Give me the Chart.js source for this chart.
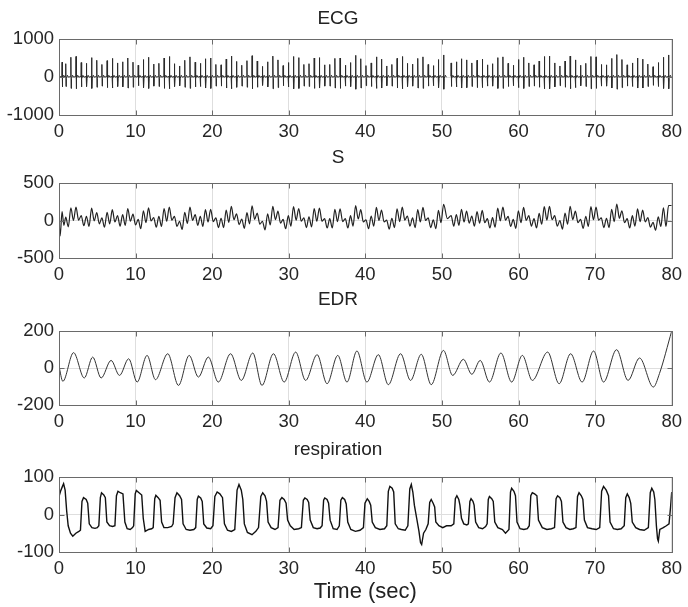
<!DOCTYPE html>
<html>
<head>
<meta charset="utf-8">
<title>ECG / S / EDR / respiration</title>
<script src="https://cdn.jsdelivr.net/npm/chart.js@4.4.1/dist/chart.umd.min.js"></script>
<style>
  html, body { margin: 0; padding: 0; background: #fff; }
  #wrap { position: relative; width: 688px; height: 607px; }
  #wrap canvas { position: absolute; left: 0; top: 0; }
</style>
</head>
<body>
<div id="wrap">
  <canvas id="ecg" width="688" height="607"></canvas>
  <canvas id="s" width="688" height="607"></canvas>
  <canvas id="edr" width="688" height="607"></canvas>
  <canvas id="resp" width="688" height="607"></canvas>
</div>
<script>
// ---- data ----

// tick labels
const xTicks = [0, 10, 20, 30, 40, 50, 60, 70, 80];
const ecgTicks = [-1000, 0, 1000];
const sTicks = [-500, 0, 500];
const edrTicks = [-200, 0, 200];
const respTicks = [-100, 0, 100];

// heart beats (sec)
const beatTime = [
  0.40, 0.88, 1.55, 2.22, 2.90, 3.58, 4.26, 4.93, 5.60, 6.28,
  6.96, 7.64, 8.31, 8.98, 9.66, 10.34, 11.02, 11.69, 12.36, 13.04,
  13.72, 14.40, 15.07, 15.74, 16.42, 17.10, 17.78, 18.45, 19.12, 19.80,
  20.48, 21.16, 21.83, 22.50, 23.18, 23.86, 24.54, 25.21, 25.88, 26.56,
  27.24, 27.92, 28.59, 29.26, 29.94, 30.62, 31.30, 31.97, 32.64, 33.32,
  34.00, 34.68, 35.35, 36.02, 36.70, 37.38, 38.06, 38.73, 39.40, 40.08,
  40.76, 41.44, 42.11, 42.78, 43.46, 44.14, 44.82, 45.49, 46.16, 46.84,
  47.52, 48.20, 48.87, 49.54, 50.22, 51.20, 51.88, 52.55, 53.22, 53.90,
  54.58, 55.26, 55.93, 56.60, 57.28, 57.96, 58.64, 59.31, 59.98, 60.66,
  61.34, 62.02, 62.69, 63.36, 64.04, 64.72, 65.40, 66.07, 66.74, 67.42,
  68.10, 68.78, 69.45, 70.12, 70.80, 71.48, 72.16, 72.83, 73.50, 74.18,
  74.86, 75.54, 76.21, 76.88, 77.56, 78.24, 78.92, 79.59
];

// ECG R peak and S trough per beat
const ecgPeak = [
  390, 350, 520, 540, 380, 360, 510, 440, 330, 430,
  490, 370, 400, 500, 390, 310, 460, 520, 340, 360,
  500, 540, 350, 290, 440, 530, 390, 360, 480, 500,
  330, 320, 470, 550, 410, 310, 430, 560, 420, 280,
  400, 550, 450, 300, 380, 540, 510, 330, 350, 500,
  510, 320, 330, 490, 500, 310, 380, 570, 480, 300,
  370, 530, 470, 290, 330, 490, 540, 360, 340, 490,
  530, 330, 300, 460, 580, 370, 400, 480, 450, 370,
  440, 470, 320, 350, 510, 530, 360, 310, 460, 520,
  370, 320, 420, 540, 550, 370, 290, 420, 550, 450,
  310, 360, 540, 530, 330, 320, 490, 590, 460, 320,
  370, 500, 470, 340, 270, 380, 520, 580
];
const ecgTrough = [
  -260, -250, -300, -310, -260, -250, -300, -270, -240, -280,
  -290, -250, -260, -290, -270, -230, -280, -300, -240, -250,
  -300, -310, -250, -230, -270, -300, -260, -250, -290, -300,
  -240, -240, -290, -310, -270, -240, -270, -310, -270, -220,
  -260, -310, -280, -230, -260, -310, -300, -240, -250, -300,
  -290, -240, -240, -290, -300, -240, -250, -320, -290, -230,
  -250, -300, -290, -230, -240, -290, -310, -250, -240, -290,
  -300, -240, -230, -280, -320, -250, -260, -290, -280, -250,
  -280, -280, -240, -240, -300, -300, -250, -230, -280, -300,
  -250, -240, -270, -310, -310, -260, -230, -270, -310, -280,
  -230, -250, -310, -300, -240, -240, -290, -320, -280, -240,
  -250, -290, -290, -250, -220, -250, -300, -310
];
const ecgGapTime = [50.62];

// S: one crest per beat, one dip between beats
const sPeak = [
  120, 45, 170, 180, 65, 55, 165, 105, 35, 110,
  145, 65, 80, 160, 85, 15, 130, 170, 40, 55,
  160, 180, 55, -10, 110, 180, 80, 55, 145, 150,
  35, 30, 140, 190, 90, 20, 105, 195, 100, -10,
  90, 190, 125, 15, 65, 185, 160, 35, 50, 160,
  165, 25, 25, 150, 155, 25, 65, 200, 145, 10,
  60, 175, 140, 5, 30, 155, 180, 60, 35, 145,
  175, 35, 10, 135, 215, 65, 80, 150, 125, 60,
  120, 135, 25, 40, 165, 180, 55, 15, 130, 175,
  65, 25, 95, 185, 190, 65, 0, 100, 190, 125,
  15, 55, 185, 180, 35, 30, 150, 220, 130, 25,
  65, 155, 140, 40, -25, 50, 170, 200
];
const sTrough = [
  -65, -85, 0, 5, -70, -80, -5, -45, -90, -45,
  -20, -75, -65, -10, -60, -110, -30, -5, -90, -80,
  -10, 5, -80, -120, -40, 0, -65, -80, -20, -15,
  -95, -95, -25, 10, -55, -105, -45, 15, -50, -125,
  -60, 10, -35, -110, -75, 5, -10, -95, -85, -10,
  -10, -100, -100, -15, -15, -100, -75, 20, -20, -110,
  -75, 0, -20, -115, -95, -15, 5, -75, -95, -20,
  0, -95, -110, -30, 25, -75, -65, -20, -35, -75,
  -35, -30, -100, -90, -5, 5, -80, -105, -30, 0,
  -75, -100, -50, 5, 10, -75, -115, -50, 10, -30,
  -105, -80, 10, 5, -95, -95, -15, 30, -30, -100,
  -75, -15, -20, -90, -130, -80, -80, 0
];
const sHeadTime = [0, 0.15];
const sHeadValue = [0, -205];
const sTailTime = [80];
const sTailValue = [200];

// EDR turning points
const edrTime = [
  0, 0.5, 1.9, 3.3, 4.4, 5.5, 6.8, 7.9, 9.1, 10.2,
  11.5, 12.6, 14.2, 15.6, 17.0, 18.2, 19.5, 20.8, 22.4, 23.8,
  25.3, 26.5, 28.0, 29.4, 30.9, 32.2, 33.7, 35.0, 36.4, 37.6,
  38.9, 40.2, 41.7, 43.0, 44.6, 45.9, 47.3, 48.6, 50.2, 51.4,
  52.8, 53.9, 55.0, 56.2, 57.7, 59.1, 60.5, 61.8, 63.8, 65.3,
  66.8, 68.3, 69.8, 71.1, 72.8, 74.3, 75.8, 77.6, 78.4, 80
];
const edrValue = [
  10, -72, 83, -54, 59, -54, 41, -40, 50, -76,
  68, -63, 77, -94, 68, -49, 59, -76, 77, -67,
  81, -94, 77, -76, 86, -67, 72, -85, 68, -76,
  92, -76, 72, -90, 77, -67, 74, -90, 95, -40,
  47, -34, 41, -76, 81, -76, 68, -67, 86, -85,
  77, -76, 92, -76, 99, -67, 54, -103, -30, 200
];

// respiration trace, one row per breath
const respTime = [
  0, 0.2, 0.45, 0.6, 0.8, 1.0, 1.2, 1.5, 1.8, 2.2, 2.6,
  2.8, 3.0, 3.2, 3.55, 3.75, 3.95, 4.3, 4.7, 5.0,
  5.2, 5.4, 5.55, 5.85, 6.05, 6.25, 6.6, 7.0,
  7.3, 7.5, 7.7, 8.0, 8.35, 8.6, 8.9, 9.3, 9.6,
  9.75, 9.95, 10.1, 10.45, 10.8, 11.0, 11.25, 11.7, 12.1,
  12.3, 12.5, 12.65, 12.95, 13.2, 13.4, 13.7, 14.2, 14.7,
  14.9, 15.15, 15.4, 15.75, 16.0, 16.2, 16.6, 17.1, 17.6,
  17.85, 18.05, 18.2, 18.5, 18.7, 18.9, 19.3, 19.8,
  20.1, 20.35, 20.65, 21.0, 21.35, 21.6, 22.0, 22.5,
  22.95, 23.25, 23.5, 23.8, 24.0, 24.2, 24.6, 25.2, 25.7,
  26.05, 26.35, 26.6, 26.9, 27.1, 27.3, 27.7, 28.2,
  28.6, 28.85, 29.1, 29.4, 29.65, 29.85, 30.2, 30.7, 31.3,
  31.65, 31.9, 32.1, 32.4, 32.6, 32.8, 33.2, 33.7, 34.1,
  34.35, 34.55, 34.7, 35.0, 35.2, 35.4, 35.8, 36.3,
  36.6, 36.8, 37.0, 37.3, 37.5, 37.7, 38.1, 38.7, 39.3, 39.75,
  39.95, 40.25, 40.5, 40.7, 40.9, 41.3, 41.9, 42.5,
  42.8, 43.0, 43.2, 43.5, 43.7, 43.9, 44.3, 44.7, 45.2,
  45.55, 45.8, 46.0, 46.2, 46.4, 46.7, 47.0, 47.2, 47.35, 47.6, 47.9, 48.2,
  48.4, 48.6, 48.85, 49.05, 49.2, 49.6, 50.1, 50.6, 51.2,
  51.55, 51.75, 51.95, 52.2, 52.35, 52.55, 52.85, 53.25,
  53.45, 53.65, 53.8, 54.05, 54.2, 54.4, 54.8, 55.3, 55.7,
  55.9, 56.05, 56.2, 56.5, 56.7, 56.9, 57.3, 57.9, 58.3,
  58.75, 58.95, 59.1, 59.4, 59.6, 59.8, 60.2, 60.7, 61.15,
  61.4, 61.6, 61.8, 62.1, 62.4, 62.6, 63.1, 63.7, 64.3,
  64.7, 64.9, 65.1, 65.4, 65.6, 65.8, 66.2, 66.7, 67.15,
  67.5, 67.7, 67.9, 68.2, 68.4, 68.6, 69.0, 69.6, 70.15,
  70.6, 70.85, 71.1, 71.45, 71.75, 71.95, 72.4, 72.9, 73.4,
  73.8, 74.0, 74.2, 74.45, 74.65, 74.85, 75.3, 75.8, 76.4,
  76.95, 77.2, 77.4, 77.65, 77.8, 78.0, 78.15, 78.25, 78.45, 78.9, 79.3, 79.65, 79.85, 80
];
const respValue = [
  48, 62, 75, 82, 65, 10, -30, -50, -58, -50, -45,
  -42, 35, 45, 40, 30, -25, -35, -37, -35,
  -30, 45, 58, 52, 45, -20, -30, -32,
  -30, 50, 62, 58, 55, -20, -38, -40, -35,
  -30, 55, 64, 58, 52, -10, -45, -40, -38,
  -35, 42, 51, 45, 38, -20, -35, -35, -32,
  -25, 45, 58, 50, 40, -25, -40, -42, -40,
  -35, 40, 49, 44, 35, -25, -36, -38,
  -30, 48, 60, 55, 45, -25, -42, -45,
  -40, 65, 80, 65, 40, -25, -48, -54, -45,
  -35, 48, 58, 50, 35, -20, -35, -40,
  -35, 38, 45, 40, 30, -15, -30, -40, -38,
  -35, 38, 44, 40, 32, -15, -35, -38, -36,
  -30, 38, 44, 40, 30, -15, -38, -40,
  -30, 38, 45, 40, 28, -20, -40, -45, -42, -35,
  30, 42, 35, 25, -20, -35, -40, -38,
  -30, 62, 75, 70, 60, -25, -38, -40, -42,
  -30, 68, 80, 60, 25, -10, -45, -75, -80, -50, -40, -25,
  32, 40, 30, 20, -20, -30, -35, -30, -30,
  -25, 42, 50, 40, 25, -10, -25, -28,
  -25, 35, 42, 35, 25, -20, -35, -38, -32,
  -25, 40, 48, 42, 35, -20, -35, -40, -50,
  -40, 60, 70, 62, 50, -20, -38, -40, -38,
  -30, 50, 58, 55, 50, -15, -35, -40, -38,
  -35, 42, 50, 45, 35, -20, -35, -40, -38,
  -35, 48, 58, 50, 40, -15, -35, -38, -40,
  -35, 62, 75, 65, 50, -20, -38, -40, -38,
  -30, 45, 55, 45, 30, -20, -35, -40, -42,
  -35, 58, 70, 60, 40, -30, -65, -71, -40, -35, -30, -25, 20, 60
];

// ---- build the point lists the library needs ----

function ecgPoints() {
  const pts = [{ x: 0, y: 0 }];
  for (let i = 0; i < beatTime.length; i++) {
    const t = beatTime[i];
    const prev = i > 0 ? beatTime[i - 1] : 0;
    ecgGapTime.forEach(g => {
      if (g > prev && g < t) pts.push({ x: g, y: null });
    });
    pts.push(
      { x: t - 0.03, y: 15 },
      { x: t, y: ecgPeak[i] },
      { x: t + 0.035, y: ecgTrough[i] },
      { x: t + 0.08, y: -35 },
      { x: t + 0.22, y: 45 },
      { x: t + 0.36, y: -5 }
    );
  }
  pts.push({ x: 80, y: 0 });
  return pts;
}

function sPoints() {
  const pts = [];
  sHeadTime.forEach((t, i) => pts.push({ x: t, y: sHeadValue[i] }));
  for (let i = 0; i < beatTime.length; i++) {
    pts.push({ x: beatTime[i], y: sPeak[i] });
    if (i < beatTime.length - 1) {
      pts.push({ x: (beatTime[i] + beatTime[i + 1]) / 2, y: sTrough[i] });
    }
  }
  sTailTime.forEach((t, i) => pts.push({ x: t, y: sTailValue[i] }));
  return pts;
}

function pairs(xs, ys) {
  const n = Math.min(xs.length, ys.length);
  const out = [];
  for (let i = 0; i < n; i++) out.push({ x: xs[i], y: ys[i] });
  return out;
}

// ---- layout (page pixels) ----
const FONT = "'Liberation Sans', Arial, Helvetica, sans-serif";
const TICK_SIZE = 18.5;
const TITLE_SIZE = 19;
const XTITLE_SIZE = 22;
const PAGE_H = 607;

// axes box with inward tick marks on all four sides
const frameTicks = {
  id: "frameTicks",
  afterDatasetsDraw(chart) {
    const ctx = chart.ctx;
    const a = chart.chartArea;
    const xs = chart.scales.x, ys = chart.scales.y;
    const left = Math.round(a.left) + 0.5, right = Math.round(a.right) + 0.5;
    const top = Math.round(a.top) + 0.5, bottom = Math.round(a.bottom) + 0.5;
    ctx.save();
    ctx.strokeStyle = "#6a6a6a";
    ctx.lineWidth = 1;
    ctx.strokeRect(left, top, right - left, bottom - top);
    ctx.beginPath();
    xs.ticks.forEach(t => {
      const px = Math.round(xs.getPixelForValue(t.value)) + 0.5;
      ctx.moveTo(px, top); ctx.lineTo(px, top + 5);
      ctx.moveTo(px, bottom); ctx.lineTo(px, bottom - 5);
    });
    ys.ticks.forEach(t => {
      const py = Math.round(ys.getPixelForValue(t.value)) + 0.5;
      ctx.moveTo(left, py); ctx.lineTo(left + 5, py);
      ctx.moveTo(right, py); ctx.lineTo(right - 5, py);
    });
    ctx.stroke();
    ctx.restore();
  }
};

function makePanel(id, title, titleY, top, bottom, yTicks, points, line, xTitle) {
  const lineH = TITLE_SIZE * 1.2;
  const axisH = xTitle ? PAGE_H - bottom : 30;
  new Chart(document.getElementById(id), {
    type: "line",
    data: {
      datasets: [Object.assign({
        data: points,
        borderColor: "#1e1e1e",
        borderWidth: 1,
        pointRadius: 0,
        spanGaps: false,
        fill: false
      }, line)]
    },
    options: {
      responsive: false,
      animation: false,
      events: [],
      layout: {
        padding: { top: titleY - lineH / 2, bottom: PAGE_H - bottom - axisH, left: 0, right: 12 }
      },
      plugins: {
        legend: { display: false },
        tooltip: { enabled: false },
        title: {
          display: true,
          text: title,
          color: "#222",
          font: { family: FONT, size: TITLE_SIZE, weight: "normal", lineHeight: 1.2 },
          padding: { top: 0, bottom: top - titleY - lineH / 2 }
        }
      },
      scales: {
        x: {
          type: "linear",
          min: 0,
          max: 80,
          afterBuildTicks: s => { s.ticks = xTicks.map(v => ({ value: v })); },
          afterFit: s => { s.height = axisH; },
          ticks: {
            color: "#262626",
            font: { family: FONT, size: TICK_SIZE },
            padding: 6,
            maxRotation: 0,
            callback: v => String(v)
          },
          grid: { color: "#dedede", drawTicks: false },
          border: { display: false },
          title: xTitle ? {
            display: true,
            text: xTitle,
            color: "#222",
            font: { family: FONT, size: XTITLE_SIZE },
            padding: { top: 0, bottom: 1.5 }
          } : { display: false }
        },
        y: {
          min: yTicks[0],
          max: yTicks[yTicks.length - 1],
          afterBuildTicks: s => { s.ticks = yTicks.map(v => ({ value: v })); },
          afterFit: s => { s.width = 59; },
          ticks: {
            color: "#262626",
            font: { family: FONT, size: TICK_SIZE },
            padding: 5,
            callback: v => String(v)
          },
          grid: { color: "#dedede", drawTicks: false },
          border: { display: false }
        }
      }
    },
    plugins: [frameTicks]
  });
}

makePanel("ecg", "ECG", 18.6, 39, 115, ecgTicks, ecgPoints(),
  { borderColor: "#2a2a2a", tension: 0 });
makePanel("s", "S", 157.3, 183, 258, sTicks, sPoints(),
  { borderColor: "#222", borderWidth: 1.2, cubicInterpolationMode: "monotone" });
makePanel("edr", "EDR", 300.2, 331, 405, edrTicks, pairs(edrTime, edrValue),
  { borderColor: "#333", cubicInterpolationMode: "monotone" });
makePanel("resp", "respiration", 449.4, 477, 552, respTicks, pairs(respTime, respValue),
  { borderColor: "#111", borderWidth: 1.4, tension: 0 }, "Time (sec)");
</script>
</body>
</html>
